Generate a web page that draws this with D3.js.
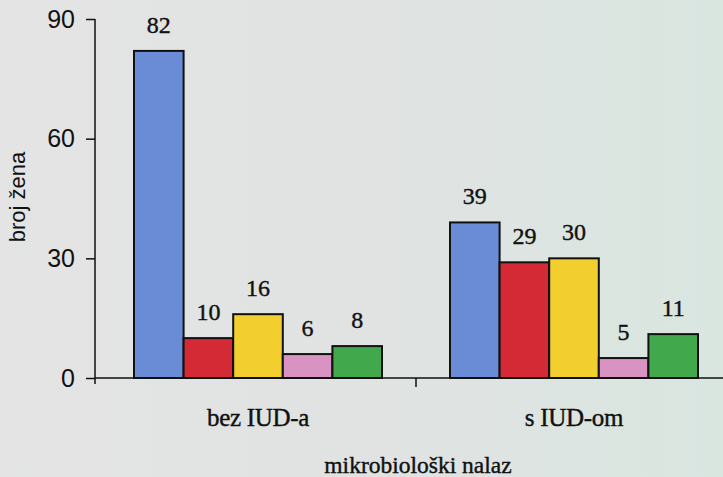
<!DOCTYPE html>
<html><head><meta charset="utf-8">
<script src="https://cdn.jsdelivr.net/npm/d3@7"></script>
<style>
html,body{margin:0;padding:0;background:#e3e4e4;}
svg{display:block;}
svg text{fill:#111;}
svg text.serif{stroke:#111;stroke-width:0.4px;}
</style></head>
<body>
<svg id="chart" width="723" height="477"></svg>
<script>
const categories = ["bez IUD-a", "s IUD-om"];
const seriesNames = ["s1", "s2", "s3", "s4", "s5"];
const seriesColors = ["#6a8bd6", "#d42a36", "#f2cf2e", "#d893c3", "#41a84b"];
const valuesBez = [82, 10, 16, 6, 8];
const valuesS = [39, 29, 30, 5, 11];
const yTicks = [0, 30, 60, 90];
const yLabel = "broj žena";
const xLabel = "mikrobiološki nalaz";

const SERIF = '"Liberation Serif","Tinos","Times New Roman","DejaVu Serif",serif';
const SANS = '"Liberation Sans","Arimo",Arial,sans-serif';
const values = [valuesBez, valuesS];
const svg = d3.select("#chart");
const axisX = 95, y0 = 378, yTop = 19;

// background
const defs = svg.append("defs");
const grad = defs.append("linearGradient").attr("id", "bg").attr("x1", 0).attr("x2", 1).attr("y1", 0).attr("y2", 0);
grad.append("stop").attr("offset", "0").attr("stop-color", "#e4e4e4");
grad.append("stop").attr("offset", "0.55").attr("stop-color", "#e0e3e2");
grad.append("stop").attr("offset", "1").attr("stop-color", "#d9e6e0");
svg.append("rect").attr("width", 723).attr("height", 477).attr("fill", "url(#bg)");

const x = d3.scaleBand().domain(categories).range([100, 732]).paddingInner(0).paddingOuter(0);
const y = d3.scaleLinear().domain([0, 90]).range([y0, yTop]);
const inner = d3.scaleBand().domain(seriesNames).range([0, 248]);

// bars
categories.forEach((c, ci) => {
  const gx = x(c) + (x.bandwidth() - 248) / 2;
  const g = svg.append("g").attr("transform", `translate(${gx},0)`);
  seriesNames.forEach((s, si) => {
    const v = values[ci][si];
    g.append("rect")
      .attr("x", inner(s)).attr("y", y(v))
      .attr("width", inner.bandwidth()).attr("height", y0 - y(v))
      .attr("fill", seriesColors[si])
      .attr("stroke", "#111").attr("stroke-width", 2);
    g.append("text").attr("class", "serif")
      .attr("x", inner(s) + inner.bandwidth() / 2)
      .attr("y", y(v) - 18)
      .attr("text-anchor", "middle")
      .attr("font-family", SERIF)
      .attr("font-size", 24)
      .text(v);
  });
});

// y axis
const yAxis = d3.axisLeft(y).tickValues(yTicks).tickSize(9).tickPadding(11);
const ya = svg.append("g").attr("transform", `translate(${axisX},0)`).call(yAxis);
ya.attr("font-family", SANS);
ya.select(".domain").remove();
ya.selectAll("line").attr("stroke", "#111").attr("stroke-width", 1.5);
ya.selectAll("text").attr("font-size", 25).attr("font-family", SANS).attr("fill", "#111");
svg.append("line").attr("x1", axisX).attr("x2", axisX).attr("y1", yTop).attr("y2", y0 + 6)
  .attr("stroke", "#111").attr("stroke-width", 1.5);

// x axis
svg.append("line").attr("x1", axisX).attr("x2", 723).attr("y1", y0).attr("y2", y0)
  .attr("stroke", "#111").attr("stroke-width", 1.5);
svg.append("line").attr("x1", x(categories[1])).attr("x2", x(categories[1]))
  .attr("y1", y0).attr("y2", y0 + 9).attr("stroke", "#111").attr("stroke-width", 1.5);
categories.forEach(c => {
  svg.append("text").attr("class", "serif").attr("x", x(c) + x.bandwidth() / 2).attr("y", 426)
    .attr("text-anchor", "middle").attr("font-family", SERIF).attr("font-size", 25)
    .attr("letter-spacing", -0.3).text(c);
});

svg.append("text").attr("class", "serif").attr("x", 418).attr("y", 473).attr("text-anchor", "middle")
  .attr("font-family", SERIF).attr("font-size", 23.5).text(xLabel);
svg.append("text").attr("transform", "translate(25,197) rotate(-90)")
  .attr("text-anchor", "middle").attr("font-family", SANS).attr("font-size", 22).text(yLabel);
</script>
</body></html>
